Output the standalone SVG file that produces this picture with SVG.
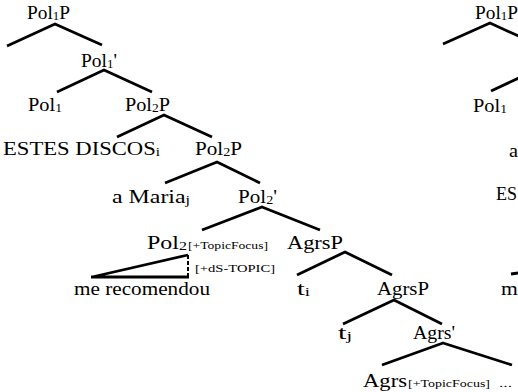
<svg xmlns="http://www.w3.org/2000/svg" width="518" height="392" viewBox="0 0 518 392">
<style>
text{font-family:'Liberation Serif','DejaVu Serif',serif;font-size:18px;fill:#000}
.s{font-size:12px}
.b{font-size:11px}
.e{stroke:#000;stroke-width:2.8;fill:none;stroke-linejoin:round}
</style>
<rect width="518" height="392" fill="#fff"/>
<g id="connectors" class="e">
<polyline points="7,46 55,24 102,45"/>
<polyline points="57,92 104,70 152,92"/>
<polyline points="117,137 164,115 212,137"/>
<polyline points="165,183 217,162 260,183"/>
<polyline points="202,230 262,207 320,230"/>
<polyline points="297,275 345,252 392,275"/>
<polyline points="343,324 394,300 442,324"/>
<polyline points="382,365 443,343 512,365"/>
<path d="M92,277 L188,255 M91,277 L189,277"/>
<line x1="188" y1="255" x2="188" y2="277" stroke-width="2" stroke-dasharray="4,2"/>
<polyline points="443,44 490,23 538,45"/>
<line x1="491" y1="91" x2="538" y2="69"/>
<line x1="511" y1="274" x2="518" y2="273"/>
</g>
<g font-family="Liberation Serif, DejaVu Serif, serif">
<g id="n-pol1p"><text x="27" y="19" textLength="43" lengthAdjust="spacingAndGlyphs">Pol<tspan class="s" dy="1">1</tspan><tspan dy="-1">P</tspan></text></g>
<g id="n-pol1bar"><text x="81" y="67" textLength="36" lengthAdjust="spacingAndGlyphs">Pol<tspan class="s" dy="1">1</tspan><tspan dy="-1">'</tspan></text></g>
<g id="n-pol1"><text x="28" y="111" textLength="34" lengthAdjust="spacingAndGlyphs">Pol<tspan class="s" dy="1">1</tspan></text></g>
<g id="n-pol2p-a"><text x="125" y="111" textLength="45" lengthAdjust="spacingAndGlyphs">Pol<tspan class="s" dy="1">2</tspan><tspan dy="-1">P</tspan></text></g>
<g id="n-estes"><text x="3" y="155" textLength="157" lengthAdjust="spacingAndGlyphs">ESTES DISCOS<tspan class="s" dy="1">i</tspan></text></g>
<g id="n-pol2p-b"><text x="195" y="155" textLength="47" lengthAdjust="spacingAndGlyphs">Pol<tspan class="s" dy="1">2</tspan><tspan dy="-1">P</tspan></text></g>
<g id="n-maria"><text x="112" y="203" textLength="78" lengthAdjust="spacingAndGlyphs">a Maria<tspan class="s" dy="1">j</tspan></text></g>
<g id="n-pol2bar"><text x="238" y="203" textLength="39" lengthAdjust="spacingAndGlyphs">Pol<tspan class="s" dy="1">2</tspan><tspan dy="-1">'</tspan></text></g>
<g id="n-pol2"><text x="147" y="249" textLength="40" lengthAdjust="spacingAndGlyphs">Pol<tspan class="s" dy="1">2</tspan></text><text class="b" x="188" y="249" textLength="80" lengthAdjust="spacingAndGlyphs">[+TopicFocus]</text></g>
<g id="n-dstopic"><text class="b" x="195" y="272" textLength="80" lengthAdjust="spacingAndGlyphs">[+dS-TOPIC]</text></g>
<g id="n-agrsp-a"><text x="287" y="249" textLength="56" lengthAdjust="spacingAndGlyphs">AgrsP</text></g>
<g id="n-merecomendou"><text x="74" y="295" textLength="136" lengthAdjust="spacingAndGlyphs">me recomendou</text></g>
<g id="n-ti"><text x="297" y="295" textLength="13" lengthAdjust="spacingAndGlyphs">t<tspan class="s" dy="1">i</tspan></text></g>
<g id="n-agrsp-b"><text x="377" y="295" textLength="52" lengthAdjust="spacingAndGlyphs">AgrsP</text></g>
<g id="n-tj"><text x="338" y="339" textLength="14" lengthAdjust="spacingAndGlyphs">t<tspan class="s" dy="1">j</tspan></text></g>
<g id="n-agrsbar"><text x="413" y="339" textLength="42" lengthAdjust="spacingAndGlyphs">Agrs'</text></g>
<g id="n-agrs"><text x="363" y="387" textLength="44" lengthAdjust="spacingAndGlyphs">Agrs</text><text class="b" x="408" y="387" textLength="82" lengthAdjust="spacingAndGlyphs">[+TopicFocus]</text><text class="b" x="499" y="387" textLength="13" lengthAdjust="spacingAndGlyphs">...</text></g>
<g id="r-pol1p"><text x="475" y="19" textLength="43" lengthAdjust="spacingAndGlyphs">Pol<tspan class="s" dy="1">1</tspan><tspan dy="-1">P</tspan></text></g>
<g id="r-pol1"><text x="473" y="112" textLength="34" lengthAdjust="spacingAndGlyphs">Pol<tspan class="s" dy="1">1</tspan></text></g>
<g id="r-a"><text x="509" y="157" textLength="9" lengthAdjust="spacingAndGlyphs">a</text></g>
<g id="r-es"><text x="496" y="200">ES</text></g>
<g id="r-m"><text x="501" y="295" textLength="16.8" lengthAdjust="spacingAndGlyphs">m</text></g>
</g>
</svg>
